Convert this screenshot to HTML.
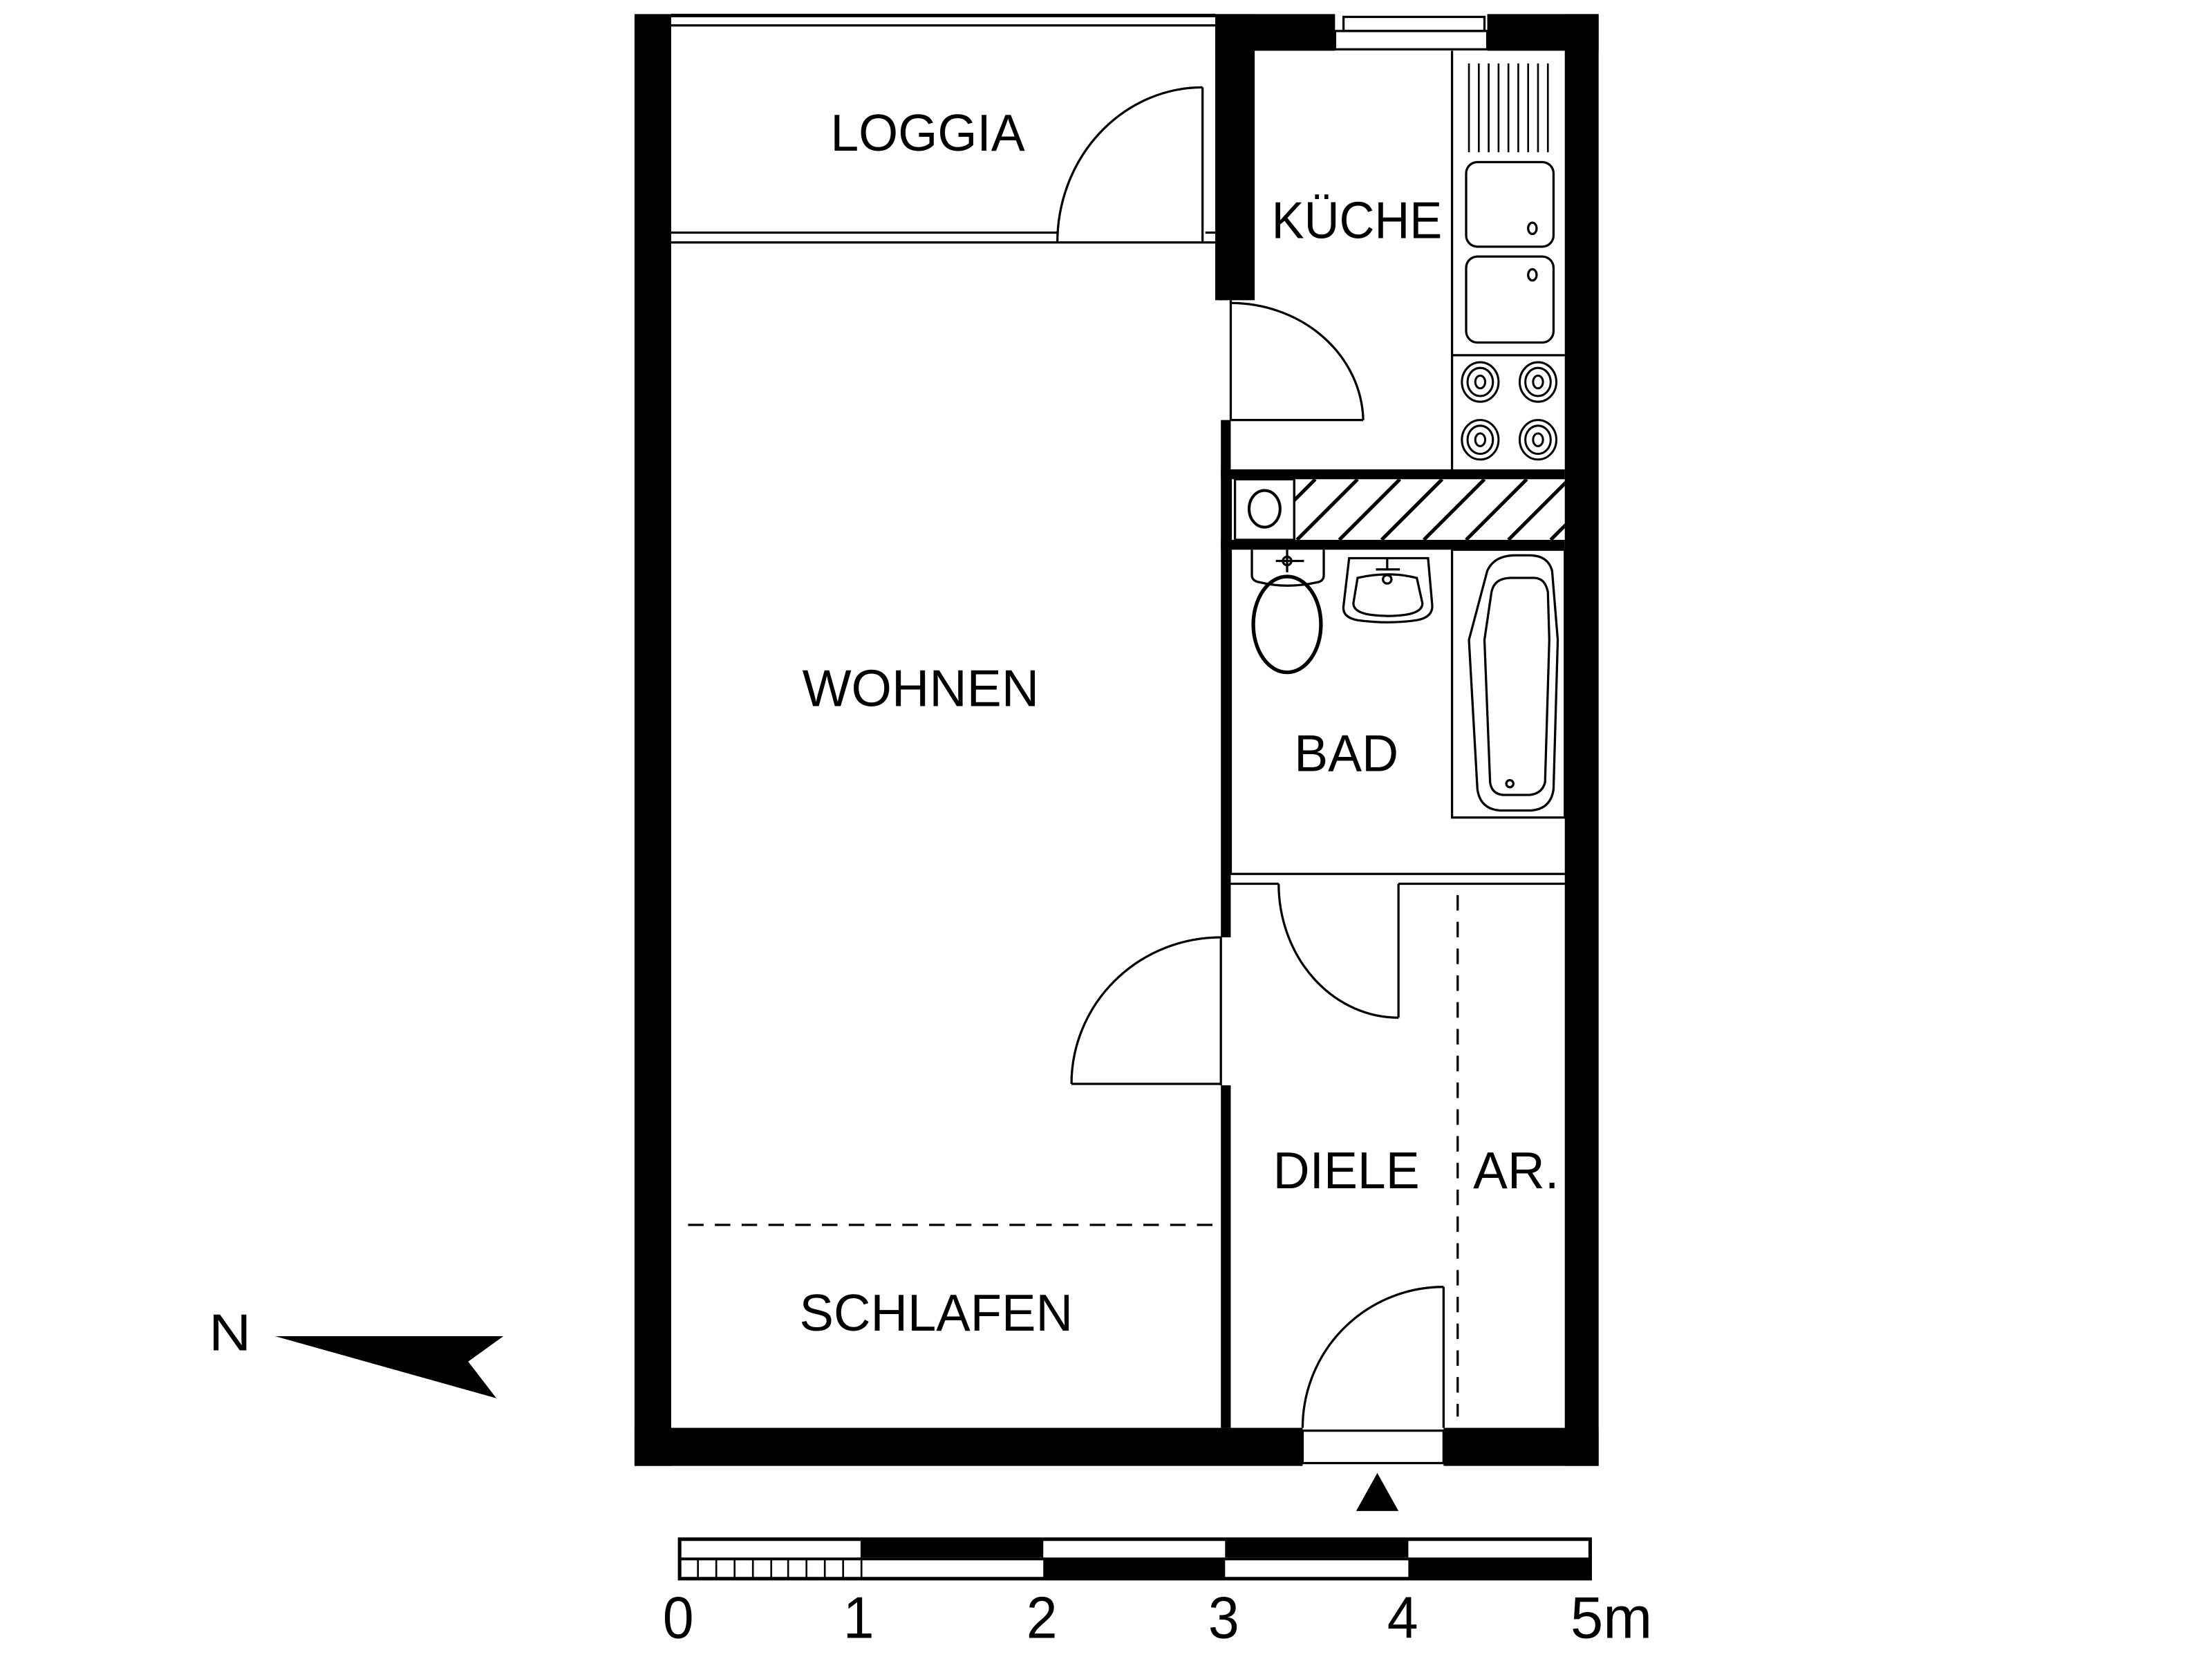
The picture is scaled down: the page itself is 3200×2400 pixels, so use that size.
<!DOCTYPE html>
<html><head><meta charset="utf-8"><style>html,body{margin:0;padding:0;background:#fff}svg{display:block}</style></head>
<body>
<svg width="3200" height="2400" viewBox="0 0 1569 1177" xmlns="http://www.w3.org/2000/svg" font-family="Liberation Sans, sans-serif">
<rect width="1600" height="1200" fill="#fff"/>
<g fill="#000">
<rect x="450" y="10" width="26" height="1030"/>
<rect x="1110" y="10" width="24" height="1030"/>
<rect x="450" y="1013" width="474" height="27"/>
<rect x="1024" y="1013" width="110" height="27"/>
<rect x="862" y="10" width="85" height="26"/>
<rect x="1055" y="10" width="79" height="26"/>
<rect x="862" y="10" width="28" height="203"/>
<rect x="866" y="298" width="7" height="367"/>
<rect x="866" y="770" width="7" height="243"/>
<rect x="866" y="333" width="244" height="7"/>
<rect x="866" y="383" width="244" height="7"/>
</g>
<g fill="none" stroke="#000" stroke-width="1.6">
<line x1="476" y1="11" x2="862" y2="11" stroke-width="2.5"/>
<line x1="476" y1="18" x2="862" y2="18"/>
<rect x="953" y="12" width="100" height="10"/>
<rect x="947" y="22" width="108" height="13"/>
<line x1="476" y1="165" x2="750" y2="165"/>
<line x1="476" y1="172" x2="866" y2="172"/>
<line x1="855" y1="165" x2="866" y2="165"/>
<line x1="866" y1="165" x2="866" y2="213"/>
<line x1="853" y1="62" x2="853" y2="172"/>
<path d="M853 62 A 103 110 0 0 0 750 172"/>
<line x1="873" y1="213" x2="873" y2="298"/>
<line x1="873" y1="298" x2="967" y2="298"/>
<path d="M873 215 A 94 85 0 0 1 967 298"/>
<line x1="1030" y1="36" x2="1030" y2="333"/>
<line x1="1030" y1="252" x2="1110" y2="252"/>
<rect x="1040" y="115" width="62" height="60" rx="8"/>
<rect x="1040" y="182" width="62" height="61" rx="8"/>
<ellipse cx="1087" cy="162" rx="3" ry="4"/>
<ellipse cx="1087" cy="195" rx="3" ry="4"/>
<line x1="873" y1="340" x2="873" y2="383"/>
<rect x="876" y="340" width="42" height="43"/>
<ellipse cx="897" cy="361" rx="11" ry="13" stroke-width="2"/>
<line x1="873" y1="627" x2="907" y2="627"/>
<line x1="992" y1="627" x2="1110" y2="627"/>
<line x1="873" y1="620" x2="1110" y2="620"/>
<line x1="992" y1="627" x2="992" y2="722"/>
<path d="M907 627 A 85 95 0 0 0 992 722"/>
<line x1="873" y1="390" x2="873" y2="620"/>
<rect x="1030" y="390" width="80" height="190"/>
<path d="M1055 405 Q1060 394 1075 394 L1085 394 Q1098 394 1101 405 L1105 454 L1102 560 Q1100 574 1086 575 L1064 575 Q1050 574 1048 560 L1042 454 Z"/>
<path d="M1058 420 Q1060 410 1072 410 L1088 410 Q1096 410 1098 420 L1099 454 L1096 555 Q1094 563 1085 564 L1066 564 Q1058 563 1057 555 L1053 454 Z"/>
<circle cx="1071" cy="556" r="2.5"/>
<path d="M888 390 L888 408 Q888 412 893 413 Q913 418 935 413 Q939 412 939 408 L939 390"/>
<ellipse cx="913" cy="443" rx="24" ry="34" stroke-width="2.6"/>
<line x1="905" y1="398" x2="925" y2="398"/><line x1="913" y1="390" x2="913" y2="406"/><circle cx="913" cy="398" r="3"/>
<path d="M957 396 L1013 396 L1016 430 Q1016 438 1005 440 Q985 443 963 440 Q952 438 953 430 Z"/>
<path d="M963 410 Q985 405 1005 410 L1009 428 Q1009 434 998 436 Q985 438 971 436 Q960 434 960 428 Z"/>
<line x1="984" y1="396" x2="984" y2="404"/><line x1="976" y1="404" x2="993" y2="404"/><circle cx="984" cy="411" r="3"/>
<line x1="866" y1="665" x2="866" y2="770"/>
<line x1="760" y1="769" x2="866" y2="769"/>
<path d="M760 769 A 106 104 0 0 1 866 665"/>
<line x1="1024" y1="913" x2="1024" y2="1013"/>
<path d="M1024 913 A 100 100 0 0 0 924 1013"/>
<rect x="924" y="1015" width="100" height="23"/>
<line x1="488" y1="869" x2="862" y2="869" stroke-dasharray="11 8"/>
<line x1="1034" y1="635" x2="1034" y2="1005" stroke-dasharray="11 8"/>
<rect x="482" y="1092" width="646" height="28" stroke-width="2.5"/>
</g>
<clipPath id="hc"><rect x="918" y="340" width="192" height="43"/></clipPath>
<g clip-path="url(#hc)" stroke="#000" stroke-width="2.5">
<line x1="918" y1="340" x2="918" y2="383" stroke-width="1.6"/>
<line x1="890" y1="383" x2="933" y2="340"/><line x1="920" y1="383" x2="963" y2="340"/><line x1="950" y1="383" x2="993" y2="340"/><line x1="980" y1="383" x2="1023" y2="340"/><line x1="1010" y1="383" x2="1053" y2="340"/><line x1="1040" y1="383" x2="1083" y2="340"/><line x1="1070" y1="383" x2="1113" y2="340"/><line x1="1100" y1="383" x2="1143" y2="340"/>
</g>
<g stroke="#000" stroke-width="1.3">
<line x1="1042" y1="45" x2="1042" y2="108"/><line x1="1049" y1="45" x2="1049" y2="108"/><line x1="1056" y1="45" x2="1056" y2="108"/><line x1="1063" y1="45" x2="1063" y2="108"/><line x1="1070" y1="45" x2="1070" y2="108"/><line x1="1077" y1="45" x2="1077" y2="108"/><line x1="1084" y1="45" x2="1084" y2="108"/><line x1="1091" y1="45" x2="1091" y2="108"/><line x1="1098" y1="45" x2="1098" y2="108"/>
</g>
<g fill="none" stroke="#000" stroke-width="1.5">
<ellipse cx="1050" cy="271" rx="13" ry="14"/><ellipse cx="1050" cy="271" rx="9" ry="10"/><ellipse cx="1050" cy="271" rx="3.5" ry="4.5"/>
<ellipse cx="1091" cy="271" rx="13" ry="14"/><ellipse cx="1091" cy="271" rx="9" ry="10"/><ellipse cx="1091" cy="271" rx="3.5" ry="4.5"/>
<ellipse cx="1050" cy="312" rx="13" ry="14"/><ellipse cx="1050" cy="312" rx="9" ry="10"/><ellipse cx="1050" cy="312" rx="3.5" ry="4.5"/>
<ellipse cx="1091" cy="312" rx="13" ry="14"/><ellipse cx="1091" cy="312" rx="9" ry="10"/><ellipse cx="1091" cy="312" rx="3.5" ry="4.5"/>
</g>
<g fill="#000">
<rect x="611" y="1093" width="129" height="12"/>
<rect x="869" y="1093" width="130" height="12"/>
<rect x="740" y="1106" width="129" height="13"/>
<rect x="999" y="1106" width="129" height="13"/>
<rect x="482" y="1105" width="646" height="2"/>
</g>
<g stroke="#000" stroke-width="1.3">
<line x1="495" y1="1106" x2="495" y2="1119"/><line x1="508" y1="1106" x2="508" y2="1119"/><line x1="521" y1="1106" x2="521" y2="1119"/><line x1="534" y1="1106" x2="534" y2="1119"/><line x1="547" y1="1106" x2="547" y2="1119"/><line x1="559" y1="1106" x2="559" y2="1119"/><line x1="572" y1="1106" x2="572" y2="1119"/><line x1="585" y1="1106" x2="585" y2="1119"/><line x1="598" y1="1106" x2="598" y2="1119"/><line x1="611" y1="1092" x2="611" y2="1120"/>
</g>
<polygon points="977,1045 962,1072 992,1072" fill="#000"/>
<polygon points="195,948 357,948 332,966 352,992" fill="#000"/>
<g fill="#000" font-size="37">
<text x="589" y="107" textLength="138" lengthAdjust="spacingAndGlyphs">LOGGIA</text>
<text x="902" y="169" textLength="121" lengthAdjust="spacingAndGlyphs">KÜCHE</text>
<text x="569" y="501" textLength="168" lengthAdjust="spacingAndGlyphs">WOHNEN</text>
<text x="918" y="547" textLength="74" lengthAdjust="spacingAndGlyphs">BAD</text>
<text x="903" y="843" textLength="104" lengthAdjust="spacingAndGlyphs">DIELE</text>
<text x="1045" y="843" textLength="61" lengthAdjust="spacingAndGlyphs">AR.</text>
<text x="567" y="944" textLength="194" lengthAdjust="spacingAndGlyphs">SCHLAFEN</text>
<text x="148" y="958" textLength="30" lengthAdjust="spacingAndGlyphs">N</text>
</g>
<g fill="#000" font-size="42">
<text x="470" y="1162" textLength="22" lengthAdjust="spacingAndGlyphs">0</text>
<text x="598" y="1162" textLength="22" lengthAdjust="spacingAndGlyphs">1</text>
<text x="728" y="1162" textLength="22" lengthAdjust="spacingAndGlyphs">2</text>
<text x="857" y="1162" textLength="22" lengthAdjust="spacingAndGlyphs">3</text>
<text x="984" y="1162" textLength="22" lengthAdjust="spacingAndGlyphs">4</text>
<text x="1114" y="1162" textLength="58" lengthAdjust="spacingAndGlyphs">5m</text>
</g>
</svg>
</body></html>
